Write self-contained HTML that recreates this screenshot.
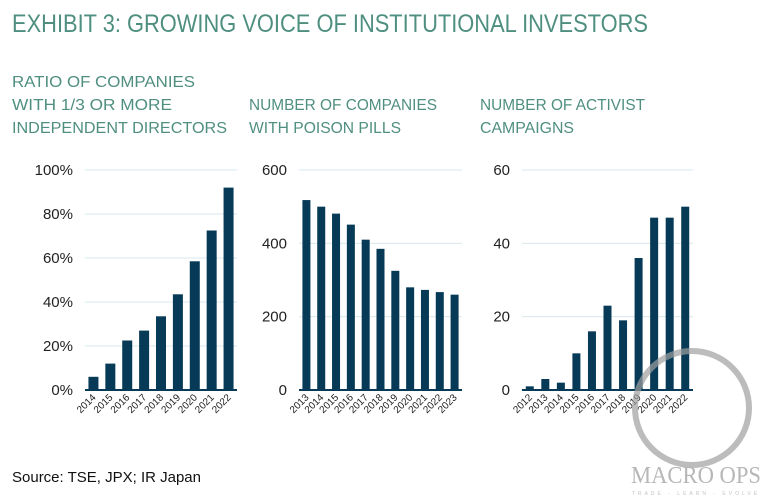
<!DOCTYPE html>
<html><head><meta charset="utf-8">
<style>
body{margin:0;background:#fff;width:761px;height:499px;overflow:hidden;font-family:"Liberation Sans",sans-serif;}
</style></head>
<body>
<svg id="svg" width="761" height="499" xmlns="http://www.w3.org/2000/svg">
<text x="12" y="32" font-size="25" fill="#4f8f80" font-family="Liberation Sans Narrow, Liberation Sans, sans-serif" style="font-weight:300" textLength="636" lengthAdjust="spacingAndGlyphs">EXHIBIT 3: GROWING VOICE OF INSTITUTIONAL INVESTORS</text>
<g font-size="16" fill="#4f8f80">
<text x="12" y="87" textLength="183" lengthAdjust="spacingAndGlyphs">RATIO OF COMPANIES</text>
<text x="12" y="110" textLength="160" lengthAdjust="spacingAndGlyphs">WITH 1/3 OR MORE</text>
<text x="12" y="133" textLength="215" lengthAdjust="spacingAndGlyphs">INDEPENDENT DIRECTORS</text>
<text x="249" y="110" textLength="188" lengthAdjust="spacingAndGlyphs">NUMBER OF COMPANIES</text>
<text x="249" y="133" textLength="152" lengthAdjust="spacingAndGlyphs">WITH POISON PILLS</text>
<text x="480" y="110" textLength="165" lengthAdjust="spacingAndGlyphs">NUMBER OF ACTIVIST</text>
<text x="480" y="133" textLength="94" lengthAdjust="spacingAndGlyphs">CAMPAIGNS</text>
</g>
<text x="12" y="482" font-size="15" fill="#111">Source: TSE, JPX; IR Japan</text>
<g id="charts"></g>
<g opacity="0.7">
<circle cx="692" cy="408" r="57" fill="none" stroke="#a0a0a0" stroke-width="6"/>
<text x="696" y="483" font-size="24" text-anchor="middle" fill="#999" font-family="Liberation Serif, serif" textLength="130" lengthAdjust="spacingAndGlyphs">MACRO OPS</text>
<text x="696" y="495" font-size="5" text-anchor="middle" fill="#aaa" letter-spacing="3">TRADE - LEARN - EVOLVE</text>
</g>
</svg>
<script>
const years1=["2014","2015","2016","2017","2018","2019","2020","2021","2022"];
const vals1=[6,12,22.5,27,33.5,43.5,58.5,72.5,92];
const ticks1=[0,20,40,60,80,100];
const years2=["2013","2014","2015","2016","2017","2018","2019","2020","2021","2022","2023"];
const vals2=[518,500,481,451,410,385,325,280,273,267,260];
const ticks2=[0,200,400,600];
const years3=["2012","2013","2014","2015","2016","2017","2018","2019","2020","2021","2022"];
const vals3=[1,3,2,10,16,23,19,36,47,47,50];
const ticks3=[0,20,40,60];

const NS="http://www.w3.org/2000/svg";
const root=document.getElementById('charts');
function mk(t,a,p){const e=document.createElementNS(NS,t);for(const k in a)e.setAttribute(k,a[k]);(p||root).appendChild(e);return e;}
function chart(name,cats,vals,ticks,max,x0,x1,bw,fmt){
  const g=mk('g',{});
  
  
  const y0=390,yTop=170;
  const y=v=>y0-(v/max)*(y0-yTop);
  const step=(x1-x0)/cats.length;
  const cx=i=>x0+step*(i+0.5);
  ticks.forEach(t=>{
    if(t>0){const l=mk('line',{x1:x0,x2:x1,y1:y(t),y2:y(t),stroke:'#d6e8ec','stroke-width':1},g);
    
    }
    const tx=mk('text',{x:x0-12,y:y(t)+5,'font-size':15,'text-anchor':'end',fill:'#222'},g);
    tx.textContent=fmt(t);
    
    
  });
  vals.forEach((v,i)=>{
    const r=mk('rect',{x:cx(i)-bw/2,y:y(v),width:bw,height:y0-y(v),fill:'#063a56'},g);
    
    
    const lx=cx(i)+3,ly=y0+8;
    const tx=mk('text',{x:lx,y:ly,'font-size':10,'text-anchor':'end',fill:'#222',transform:`rotate(-45 ${lx} ${ly})`},g);
    tx.textContent=cats[i];
    
    
  });
  const ax=mk('line',{x1:x0,x2:x1,y1:y0,y2:y0,stroke:'#063a56','stroke-width':2},g);
  
  
}
chart('chart-independent-directors',years1,vals1,ticks1,100,85,237,10,t=>t+'%');
chart('chart-poison-pills',years2,vals2,ticks2,600,299,462,8,t=>String(t));
chart('chart-activist-campaigns',years3,vals3,ticks3,60,522,693,8,t=>String(t));
</script>
</body></html>
